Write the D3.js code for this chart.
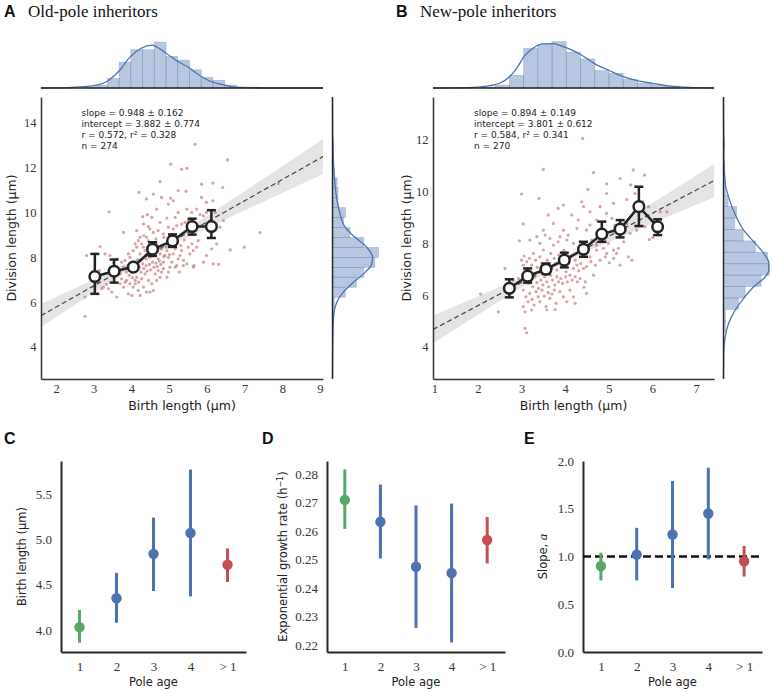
<!DOCTYPE html>
<html>
<head>
<meta charset="utf-8">
<script src="https://cdn.jsdelivr.net/npm/d3@7"></script>
<style>
  body { margin: 0; background: #fff; }
  svg { display: block; }
</style>
</head>
<body>
<div id="chart"></div>
<script>
// ---------- data: panel A (old-pole inheritors) ----------
const oldPoleCells = [[5.69,13.04],[5.04,12.15],[5.33,11.93],[5.47,11.97],[6.55,12.34],[4.76,11.37],[5.86,11.26],[6.16,11.31],[6.42,11.11],[4.20,10.89],[4.58,10.82],[4.80,10.67],[5.24,10.97],[5.45,10.94],[5.04,10.64],[4.40,10.60],[5.86,10.67],[5.99,10.45],[6.16,10.52],[3.41,10.03],[4.30,9.81],[4.42,9.90],[4.98,10.37],[5.11,10.52],[5.47,10.15],[5.60,10.00],[5.73,10.15],[5.82,9.90],[5.24,10.00],[5.16,9.78],[4.94,9.75],[4.76,9.56],[4.67,10.15],[4.54,9.78],[4.32,9.48],[4.45,9.37],[3.79,9.11],[4.14,9.19],[4.23,8.89],[4.40,8.89],[4.49,9.26],[4.58,9.11],[4.71,9.19],[4.85,9.04],[4.98,9.34],[5.11,9.26],[5.20,9.41],[5.33,9.48],[5.42,9.56],[5.51,9.63],[5.69,9.48],[5.91,9.85],[5.99,10.00],[6.22,10.00],[6.26,9.48],[6.35,9.34],[6.44,9.63],[3.17,8.48],[2.81,8.08],[2.77,6.23],[2.77,5.37],[3.30,8.15],[3.43,8.08],[3.52,7.74],[3.61,7.93],[3.70,7.26],[3.79,7.56],[3.87,7.34],[3.92,8.15],[3.96,8.00],[4.01,7.78],[4.05,8.30],[4.10,8.60],[4.14,8.45],[4.18,8.74],[4.23,8.15],[4.27,8.60],[4.32,8.45],[4.36,8.30],[4.39,7.93],[4.42,8.15],[4.45,8.74],[4.49,8.00],[4.54,8.45],[4.58,8.08],[4.63,8.30],[4.67,8.60],[4.71,7.93],[4.76,8.15],[4.80,8.37],[4.85,7.78],[4.89,8.08],[4.94,8.30],[4.98,8.00],[5.02,8.60],[5.07,7.78],[5.11,8.15],[5.16,8.37],[5.20,7.63],[5.24,7.93],[5.29,8.08],[5.33,8.30],[5.38,7.86],[5.47,7.71],[5.55,8.15],[5.60,8.60],[5.64,8.30],[5.66,7.63],[5.73,8.45],[5.77,8.74],[5.91,7.78],[5.99,8.08],[6.13,8.37],[6.17,7.71],[6.26,8.60],[6.31,7.68],[6.62,8.33],[6.99,8.45],[7.41,9.10],[7.90,11.29],[3.21,6.60],[3.26,6.67],[3.34,6.79],[3.39,6.60],[3.48,6.45],[3.61,6.23],[3.70,6.82],[3.79,6.67],[3.83,6.89],[3.87,6.97],[3.92,6.37],[3.96,6.82],[4.01,6.30],[4.05,6.67],[4.10,6.82],[4.14,7.11],[4.18,6.52],[4.23,6.30],[4.27,7.04],[4.32,6.67],[4.36,7.26],[4.40,6.45],[4.45,6.97],[4.49,6.45],[4.54,6.82],[4.58,6.52],[4.63,7.26],[4.67,6.97],[4.71,7.41],[4.76,7.11],[4.80,7.34],[4.85,7.49],[4.94,7.11],[4.98,7.34],[5.02,7.56],[5.16,7.56],[5.27,7.34],[5.38,7.63],[5.64,7.56],[3.15,7.41],[3.03,6.67],[2.99,6.97],[3.83,7.86],[3.92,7.49],[4.01,7.34],[4.07,7.63],[4.12,7.38],[4.16,7.86],[4.21,7.56],[4.25,7.34],[4.30,7.71],[4.33,7.49],[4.39,7.63],[4.42,7.38],[4.48,7.68],[4.51,7.44],[4.56,7.78],[4.60,7.56],[4.65,7.74],[4.69,7.59],[4.74,7.83],[4.78,7.68],[4.03,7.09],[4.10,6.97],[4.19,6.89],[3.94,7.19],[3.74,7.04],[3.65,7.49],[3.56,7.34],[3.74,7.78],[4.86,8.03],[4.92,8.45],[5.01,8.12],[5.09,8.48],[5.18,8.74],[5.31,8.52],[5.40,8.77],[5.51,8.45],[4.65,8.82],[4.86,8.89],[4.48,8.52],[4.33,8.97]];

const oldBinX    = [3.03, 3.54, 4.05, 4.56, 5.09, 5.61, 6.12];
const oldBinMean = [7.14, 7.38, 7.56, 8.36, 8.73, 9.37, 9.37];
const oldBinLo   = [6.37, 6.87, 7.42, 8.06, 8.46, 9.01, 8.86];
const oldBinHi   = [8.15, 7.90, 7.70, 8.67, 9.02, 9.72, 10.10];

// marginal histograms (bin start, bin width, counts) and density curves
const oldTopStart = 2.74, oldTopWidth = 0.311;
const oldTopCounts = [1, 3, 10, 27, 40, 40, 48, 33, 29, 19, 11, 8, 3, 1, 1];
const oldTopKde = [[1.60,0],[2.11,0.002],[2.72,0.016],[3.08,0.034],[3.37,0.086],[3.67,0.208],[3.96,0.379],[4.27,0.490],[4.54,0.526],[4.89,0.435],[5.20,0.335],[5.50,0.257],[5.79,0.159],[6.10,0.080],[6.42,0.040],[6.69,0.015],[7.15,0.004],[7.94,0],[9.08,0]];
const oldRightStart = 5.33, oldRightWidth = 0.444;
const oldRightCounts = [1, 2, 14, 26, 34, 46, 50, 34, 19, 12, 14, 6, 6, 5, 2, 1, 1, 1];
const oldRightKde = [[2.57,0],[4.3,0.003],[5.33,0.009],[5.93,0.033],[6.37,0.083],[6.82,0.173],[7.26,0.277],[7.7,0.351],[8.0,0.358],[8.44,0.307],[8.89,0.203],[9.33,0.114],[10.22,0.054],[11.7,0.015],[13.78,0.001],[15.15,0]];

// ---------- data: panel B (new-pole inheritors) ----------
const newPoleCells = [[3.50,10.86],[4.65,10.74],[5.56,10.84],[5.82,10.64],[5.26,10.51],[4.95,10.30],[3.00,9.91],[3.40,9.74],[4.52,10.09],[5.50,10.26],[3.96,9.48],[3.84,9.35],[4.38,9.61],[4.42,9.42],[4.57,9.22],[4.80,9.42],[4.95,9.93],[4.95,9.16],[5.11,9.55],[5.41,9.70],[5.60,9.93],[5.78,9.61],[5.91,9.42],[6.18,9.22],[6.33,9.22],[3.61,9.10],[4.15,9.10],[4.30,8.90],[3.73,8.77],[3.04,8.75],[3.50,8.51],[3.96,8.51],[4.07,8.32],[4.27,8.58],[4.49,8.51],[4.57,8.71],[4.72,8.90],[5.07,8.97],[5.14,8.71],[5.18,8.51],[5.41,8.77],[5.49,8.39],[5.64,8.51],[5.83,8.64],[5.93,8.15],[6.01,8.23],[2.95,8.10],[3.19,8.13],[3.35,8.26],[3.42,8.00],[3.54,8.32],[3.65,8.19],[3.73,7.93],[3.84,8.06],[3.88,8.26],[4.04,8.13],[4.19,8.00],[4.34,8.06],[4.61,8.13],[4.72,7.93],[4.88,7.81],[4.99,8.00],[5.11,7.74],[5.22,7.81],[5.34,8.06],[5.45,7.48],[5.53,7.35],[2.62,7.03],[2.81,6.58],[2.93,6.64],[3.00,7.35],[3.04,7.16],[3.08,6.97],[3.06,7.51],[3.12,7.29],[3.18,7.42],[3.23,7.16],[3.27,7.61],[3.32,7.35],[3.36,7.07],[3.42,7.48],[3.46,7.22],[3.50,7.74],[3.55,6.94],[3.59,7.35],[3.64,7.16],[3.67,7.61],[3.70,7.03],[3.75,7.42],[3.78,7.22],[3.81,6.97],[3.85,7.55],[3.88,7.29],[3.92,7.10],[3.97,7.74],[4.02,6.90],[4.07,7.22],[4.13,7.48],[4.19,7.03],[4.23,7.35],[4.27,7.16],[4.31,6.94],[4.36,7.22],[4.42,7.03],[4.49,7.10],[4.59,7.29],[4.69,7.16],[4.80,7.35],[4.92,7.48],[5.01,7.25],[5.11,7.42],[5.18,7.61],[5.26,7.16],[3.12,6.64],[3.16,6.45],[3.21,6.55],[3.26,6.32],[3.30,6.71],[3.35,6.48],[3.39,6.26],[3.44,6.58],[3.49,6.39],[3.53,6.71],[3.58,6.51],[3.62,6.32],[3.67,6.77],[3.71,6.58],[3.76,6.39],[3.81,6.71],[3.85,6.51],[3.90,6.64],[3.94,6.45],[4.01,6.71],[4.05,6.51],[4.11,6.77],[4.16,6.58],[4.23,6.71],[4.28,6.51],[4.34,6.64],[3.04,6.19],[3.10,5.93],[3.15,5.74],[3.19,6.06],[3.24,5.83],[3.29,5.61],[3.33,6.13],[3.38,5.93],[3.42,5.74],[3.47,6.19],[3.52,5.96],[3.56,5.55],[3.61,6.09],[3.65,5.87],[3.70,6.04],[3.75,6.19],[3.79,5.68],[3.88,6.13],[3.96,5.93],[4.04,5.74],[4.11,6.19],[4.19,5.93],[4.23,5.68],[4.43,6.30],[4.49,6.06],[3.04,5.55],[3.08,5.35],[3.23,5.42],[3.58,5.42],[3.77,5.44],[2.47,5.35],[2.06,6.04],[3.08,4.71],[3.12,4.54],[4.40,12.06],[4.72,7.74],[4.57,7.48],[4.95,7.61],[4.46,6.51],[4.65,6.77]];

const newBinX    = [2.72, 3.14, 3.56, 3.98, 4.42, 4.84, 5.26, 5.69, 6.12];
const newBinMean = [6.26, 6.73, 7.00, 7.35, 7.77, 8.36, 8.55, 9.42, 8.64];
const newBinLo   = [5.91, 6.48, 6.81, 7.07, 7.48, 8.06, 8.23, 8.67, 8.32];
const newBinHi   = [6.61, 7.03, 7.22, 7.64, 8.06, 8.84, 8.90, 10.19, 8.93];

const newTopStart = 2.07, newTopWidth = 0.326;
const newTopCounts = [1, 3, 13, 41, 45, 48, 37, 30, 18, 15, 9, 5, 3, 2];
const newTopKde = [[0.97,0],[1.89,0.008],[2.28,0.027],[2.51,0.059],[2.72,0.129],[2.89,0.234],[3.06,0.371],[3.27,0.469],[3.50,0.516],[3.71,0.519],[3.88,0.500],[4.04,0.469],[4.36,0.390],[4.69,0.280],[5.01,0.205],[5.33,0.133],[5.67,0.084],[5.99,0.055],[6.31,0.029],[6.63,0.012],[7.02,0.004],[7.41,0]];
const newRightStart = 4.56, newRightWidth = 0.442;
const newRightCounts = [2, 2, 16, 23, 40, 49, 47, 34, 21, 12, 14, 5, 2, 1, 1, 0, 1];
const newRightKde = [[2.75,0],[3.8,0.003],[4.38,0.015],[4.90,0.045],[5.42,0.105],[5.87,0.180],[6.32,0.270],[6.71,0.375],[6.97,0.405],[7.23,0.405],[7.61,0.360],[8.06,0.270],[8.51,0.180],[8.97,0.120],[9.8,0.045],[10.26,0.018],[11.35,0.003],[13.66,0]];

// ---------- data: panels C-E (pole age) ----------
const poleAges = ["1", "2", "3", "4", "> 1"];
const poleColors = ["#55A868", "#4C72B0", "#4C72B0", "#4C72B0", "#C44E52"];

const birthMean = [4.03, 4.35, 4.84, 5.07, 4.72];
const birthLo   = [3.86, 4.08, 4.43, 4.37, 4.53];
const birthHi   = [4.22, 4.63, 5.24, 5.77, 4.90];

const growthMean = [0.2710, 0.2633, 0.2475, 0.2453, 0.2569];
const growthLo   = [0.2608, 0.2504, 0.2260, 0.2209, 0.2487];
const growthHi   = [0.2817, 0.2764, 0.2691, 0.2697, 0.2650];

const slopeMean = [0.90, 1.02, 1.23, 1.45, 0.95];
const slopeLo   = [0.75, 0.75, 0.67, 0.97, 0.79];
const slopeHi   = [1.04, 1.30, 1.79, 1.93, 1.11];

// ---------- drawing ----------
const SERIF = "'Liberation Serif', 'DejaVu Serif', serif";
const SANS = "'DejaVu Sans', Verdana, sans-serif";
const BOLD = "'Liberation Sans', Arial, sans-serif";
const INK = "#222";

const svg = d3.select("#chart").append("svg")
  .attr("width", 773)
  .attr("height", 692)
  .style("background", "#fff");

function panelTitle(letter, x, y, title) {
  svg.append("text").attr("x", x).attr("y", y)
    .attr("font-family", BOLD).attr("font-weight", "bold").attr("font-size", 16)
    .attr("fill", "#111").text(letter);
  if (title) {
    svg.append("text").attr("x", x + 24).attr("y", y)
      .attr("font-family", SERIF).attr("font-size", 17)
      .attr("fill", "#111").text(title);
  }
}

// tick labels are serif, spines dark, no tick marks
function styleAxis(g, size, spineWidth, spineColor) {
  g.attr("font-family", null).attr("font-size", null);
  g.selectAll(".tick text")
    .style("font-family", SERIF)
    .style("font-size", size + "px")
    .attr("fill", "#333");
  g.select(".domain").attr("stroke", spineColor).attr("stroke-width", spineWidth);
}

function drawJoint(p) {
  const x = d3.scaleLinear().domain(p.xDomain).range([p.left, p.right]);
  const y = d3.scaleLinear().domain(p.yDomain).range([p.bottom, p.top]);

  const clipId = "clip-" + p.key;
  svg.append("clipPath").attr("id", clipId)
    .append("rect")
    .attr("x", p.left).attr("y", p.top)
    .attr("width", p.right - p.left).attr("height", p.bottom - p.top);

  const plot = svg.append("g").attr("clip-path", `url(#${clipId})`);

  // regression fit with its confidence band
  const fit = v => p.slope * v + p.intercept;
  const half = v => Math.sqrt(p.ciCenter ** 2 + (p.ciSlope * (v - p.xMean)) ** 2);
  const xs = d3.range(61).map(i => p.xDomain[0] + (p.xDomain[1] - p.xDomain[0]) * i / 60);

  plot.append("path")
    .datum(xs)
    .attr("d", d3.area().x(v => x(v)).y0(v => y(fit(v) - half(v))).y1(v => y(fit(v) + half(v))))
    .attr("fill", "#c4c4c4")
    .attr("fill-opacity", 0.45);

  plot.append("line")
    .attr("x1", x(p.xDomain[0])).attr("y1", y(fit(p.xDomain[0])))
    .attr("x2", x(p.xDomain[1])).attr("y2", y(fit(p.xDomain[1])))
    .attr("stroke", "#444").attr("stroke-width", 1.2)
    .attr("stroke-dasharray", "5,3");

  // individual cells
  plot.append("g")
    .selectAll("circle")
    .data(p.cells)
    .join("circle")
    .attr("cx", d => x(d[0]))
    .attr("cy", d => y(d[1]))
    .attr("r", 1.6)
    .attr("fill", "#B8474B")
    .attr("fill-opacity", 0.5);

  // binned means with error bars
  const bins = p.binX.map((bx, i) => ({ x: bx, m: p.binMean[i], lo: p.binLo[i], hi: p.binHi[i] }));
  const binG = svg.append("g");
  binG.append("path")
    .datum(bins)
    .attr("d", d3.line().x(d => x(d.x)).y(d => y(d.m)))
    .attr("fill", "none").attr("stroke", INK).attr("stroke-width", 2.5);

  const bar = binG.selectAll("g.err").data(bins).join("g").attr("class", "err");
  bar.append("line")
    .attr("x1", d => x(d.x)).attr("x2", d => x(d.x))
    .attr("y1", d => y(d.lo)).attr("y2", d => y(d.hi))
    .attr("stroke", INK).attr("stroke-width", 2.5);
  ["lo", "hi"].forEach(k => {
    bar.append("line")
      .attr("x1", d => x(d.x) - 4.5).attr("x2", d => x(d.x) + 4.5)
      .attr("y1", d => y(d[k])).attr("y2", d => y(d[k]))
      .attr("stroke", INK).attr("stroke-width", 2.5);
  });
  bar.append("circle")
    .attr("cx", d => x(d.x)).attr("cy", d => y(d.m))
    .attr("r", 5.3)
    .attr("fill", "#fff").attr("stroke", INK).attr("stroke-width", 2.5);

  // axes
  svg.append("g")
    .attr("transform", `translate(0,${p.bottom})`)
    .call(d3.axisBottom(x).tickValues(p.xTicks).tickFormat(d3.format("d")).tickSize(0).tickSizeOuter(0).tickPadding(5.5))
    .call(g => styleAxis(g, 12.5, 1.5, "#333"));
  svg.append("g")
    .attr("transform", `translate(${p.left},0)`)
    .call(d3.axisLeft(y).tickValues(p.yTicks).tickFormat(d3.format("d")).tickSize(0).tickSizeOuter(0).tickPadding(4.5))
    .call(g => styleAxis(g, 12.5, 1.5, "#333"));

  svg.append("text")
    .attr("x", (p.left + p.right) / 2).attr("y", 410)
    .attr("text-anchor", "middle")
    .attr("font-family", SANS).attr("font-size", 12.5).attr("fill", INK)
    .text("Birth length (μm)");
  svg.append("text")
    .attr("transform", `translate(${p.yLabelX},${(p.top + p.bottom) / 2}) rotate(-90)`)
    .attr("text-anchor", "middle").attr("dy", "0.35em")
    .attr("font-family", SANS).attr("font-size", 12.5).attr("fill", INK)
    .text("Division length (μm)");

  // regression statistics
  const stats = [
    `slope = ${p.slope.toFixed(3)} ± ${p.slopeErr.toFixed(3)}`,
    `intercept = ${p.intercept.toFixed(3)} ± ${p.interceptErr.toFixed(3)}`,
    `r = ${p.r.toFixed(3)}, r² = ${p.r2.toFixed(3)}`,
    `n = ${p.n}`
  ];
  svg.append("g")
    .selectAll("text")
    .data(stats)
    .join("text")
    .attr("x", p.statsX)
    .attr("y", (d, i) => 116 + i * 11)
    .attr("font-family", SANS).attr("font-size", 9).attr("fill", INK)
    .text(d => d);

  // top marginal: birth length distribution
  const base = 88;
  const yTop = d3.scaleLinear().domain([0, p.topMax]).range([base, 35]);
  const topN = d3.sum(p.topCounts);
  svg.append("g")
    .selectAll("rect")
    .data(p.topCounts)
    .join("rect")
    .attr("x", (c, i) => x(p.topStart + i * p.topWidth))
    .attr("width", (c, i) => x(p.topStart + (i + 1) * p.topWidth) - x(p.topStart + i * p.topWidth))
    .attr("y", c => yTop(c / (topN * p.topWidth)))
    .attr("height", c => base - yTop(c / (topN * p.topWidth)))
    .attr("fill", "#4C72B0").attr("fill-opacity", 0.4)
    .attr("stroke", "#4C72B0").attr("stroke-opacity", 0.3).attr("stroke-width", 0.8);
  svg.append("path")
    .datum(p.topKde)
    .attr("d", d3.line().x(d => x(d[0])).y(d => yTop(d[1])).curve(d3.curveMonotoneX))
    .attr("fill", "none").attr("stroke", "#4C72B0").attr("stroke-width", 1.3);
  svg.append("line")
    .attr("x1", p.left).attr("x2", p.right).attr("y1", base).attr("y2", base)
    .attr("stroke", INK).attr("stroke-width", 1.4);

  // right marginal: division length distribution
  const xRight = d3.scaleLinear().domain([0, 0.447]).range([p.mRight, p.mRight + 50]);
  const rightN = d3.sum(p.rightCounts);
  svg.append("g")
    .selectAll("rect")
    .data(p.rightCounts)
    .join("rect")
    .attr("x", p.mRight)
    .attr("y", (c, i) => y(p.rightStart + (i + 1) * p.rightWidth))
    .attr("height", (c, i) => y(p.rightStart + i * p.rightWidth) - y(p.rightStart + (i + 1) * p.rightWidth))
    .attr("width", c => xRight(c / (rightN * p.rightWidth)) - p.mRight)
    .attr("fill", "#4C72B0").attr("fill-opacity", 0.4)
    .attr("stroke", "#4C72B0").attr("stroke-opacity", 0.3).attr("stroke-width", 0.8);
  svg.append("path")
    .datum(p.rightKde)
    .attr("d", d3.line().x(d => xRight(d[1])).y(d => y(d[0])).curve(d3.curveMonotoneY))
    .attr("fill", "none").attr("stroke", "#4C72B0").attr("stroke-width", 1.3);
  svg.append("line")
    .attr("x1", p.mRight).attr("x2", p.mRight).attr("y1", p.top).attr("y2", p.bottom)
    .attr("stroke", INK).attr("stroke-width", 1.4);
}

function drawPointPanel(p) {
  const x = d3.scalePoint().domain(poleAges).range([p.left, p.right]).padding(0.5);
  const y = d3.scaleLinear().domain(p.yDomain).range([652, 461]);

  svg.append("g")
    .attr("transform", "translate(0,652)")
    .call(d3.axisBottom(x).tickSize(0).tickSizeOuter(0).tickPadding(9.5))
    .call(g => styleAxis(g, 13, 2, "#262626"));
  svg.append("g")
    .attr("transform", `translate(${p.left},0)`)
    .call(d3.axisLeft(y).tickValues(p.yTicks).tickFormat(d3.format(p.fmt)).tickSize(0).tickSizeOuter(0).tickPadding(9))
    .call(g => styleAxis(g, 13, 2, "#262626"));

  if (p.refLine !== undefined) {
    svg.append("line")
      .attr("x1", p.left).attr("x2", p.right)
      .attr("y1", y(p.refLine)).attr("y2", y(p.refLine))
      .attr("stroke", "#111").attr("stroke-width", 2.3)
      .attr("stroke-dasharray", "8,4");
  }

  const pts = poleAges.map((a, i) => ({ a, m: p.mean[i], lo: p.lo[i], hi: p.hi[i], c: poleColors[i] }));
  const g = svg.append("g").selectAll("g").data(pts).join("g");
  g.append("line")
    .attr("x1", d => x(d.a)).attr("x2", d => x(d.a))
    .attr("y1", d => y(d.lo)).attr("y2", d => y(d.hi))
    .attr("stroke", d => d.c).attr("stroke-width", 3);
  g.append("circle")
    .attr("cx", d => x(d.a)).attr("cy", d => y(d.m))
    .attr("r", 5.2)
    .attr("fill", d => d.c);

  svg.append("text")
    .attr("x", (p.left + p.right) / 2).attr("y", 686)
    .attr("text-anchor", "middle")
    .attr("font-family", SANS).attr("font-size", 11.5).attr("fill", INK)
    .text("Pole age");

  const yl = svg.append("text")
    .attr("transform", `translate(${p.yLabelX},556.5) rotate(-90)`)
    .attr("text-anchor", "middle").attr("dy", "0.35em")
    .attr("font-family", SANS).attr("font-size", 11.5).attr("fill", INK);
  p.yLabel(yl);
}

// A
panelTitle("A", 4, 17, "Old-pole inheritors");
drawJoint({
  key: "a", left: 41, right: 323, top: 97, bottom: 379, mRight: 332.5,
  xDomain: [1.602, 9.08], yDomain: [2.573, 15.146],
  xTicks: [2, 3, 4, 5, 6, 7, 8, 9], yTicks: [4, 6, 8, 10, 12, 14],
  yLabelX: 12, statsX: 81.5,
  cells: oldPoleCells, binX: oldBinX, binMean: oldBinMean, binLo: oldBinLo, binHi: oldBinHi,
  slope: 0.948, slopeErr: 0.162, intercept: 3.882, interceptErr: 0.774, r: 0.572, r2: 0.328, n: 274,
  xMean: 4.55, ciCenter: 0.12, ciSlope: 0.17,
  topStart: oldTopStart, topWidth: oldTopWidth, topCounts: oldTopCounts, topKde: oldTopKde, topMax: 0.65,
  rightStart: oldRightStart, rightWidth: oldRightWidth, rightCounts: oldRightCounts, rightKde: oldRightKde
});

// B
panelTitle("B", 396, 17, "New-pole inheritors");
drawJoint({
  key: "b", left: 433, right: 714, top: 97, bottom: 379, mRight: 723.5,
  xDomain: [0.97, 7.412], yDomain: [2.75, 13.664],
  xTicks: [1, 2, 3, 4, 5, 6, 7], yTicks: [4, 6, 8, 10, 12],
  yLabelX: 407, statsX: 474,
  cells: newPoleCells, binX: newBinX, binMean: newBinMean, binLo: newBinLo, binHi: newBinHi,
  slope: 0.894, slopeErr: 0.149, intercept: 3.801, interceptErr: 0.612, r: 0.584, r2: 0.341, n: 270,
  xMean: 3.9, ciCenter: 0.1, ciSlope: 0.18,
  topStart: newTopStart, topWidth: newTopWidth, topCounts: newTopCounts, topKde: newTopKde, topMax: 0.621,
  rightStart: newRightStart, rightWidth: newRightWidth, rightCounts: newRightCounts, rightKde: newRightKde
});

// C
panelTitle("C", 4, 444);
drawPointPanel({
  left: 61, right: 246, yDomain: [3.757, 5.864], yTicks: [4.0, 4.5, 5.0, 5.5], fmt: ".1f",
  mean: birthMean, lo: birthLo, hi: birthHi, yLabelX: 22,
  yLabel: t => t.text("Birth length (μm)")
});

// D
panelTitle("D", 262, 444);
drawPointPanel({
  left: 327, right: 505, yDomain: [0.21754, 0.28468],
  yTicks: [0.22, 0.23, 0.24, 0.25, 0.26, 0.27, 0.28], fmt: ".2f",
  mean: growthMean, lo: growthLo, hi: growthHi, yLabelX: 283,
  yLabel: t => {
    t.append("tspan").text("Exponential growth rate (h");
    t.append("tspan").attr("baseline-shift", "super").attr("font-size", 8).text("−1");
    t.append("tspan").text(")");
  }
});

// E
panelTitle("E", 524, 444);
drawPointPanel({
  left: 583, right: 762, yDomain: [0, 2], yTicks: [0, 0.5, 1.0, 1.5, 2.0], fmt: ".1f",
  mean: slopeMean, lo: slopeLo, hi: slopeHi, yLabelX: 543, refLine: 1.0,
  yLabel: t => {
    t.append("tspan").text("Slope, ");
    t.append("tspan").attr("font-family", SERIF).attr("font-style", "italic").attr("font-size", 13).text("a");
  }
});
</script>
</body>
</html>
